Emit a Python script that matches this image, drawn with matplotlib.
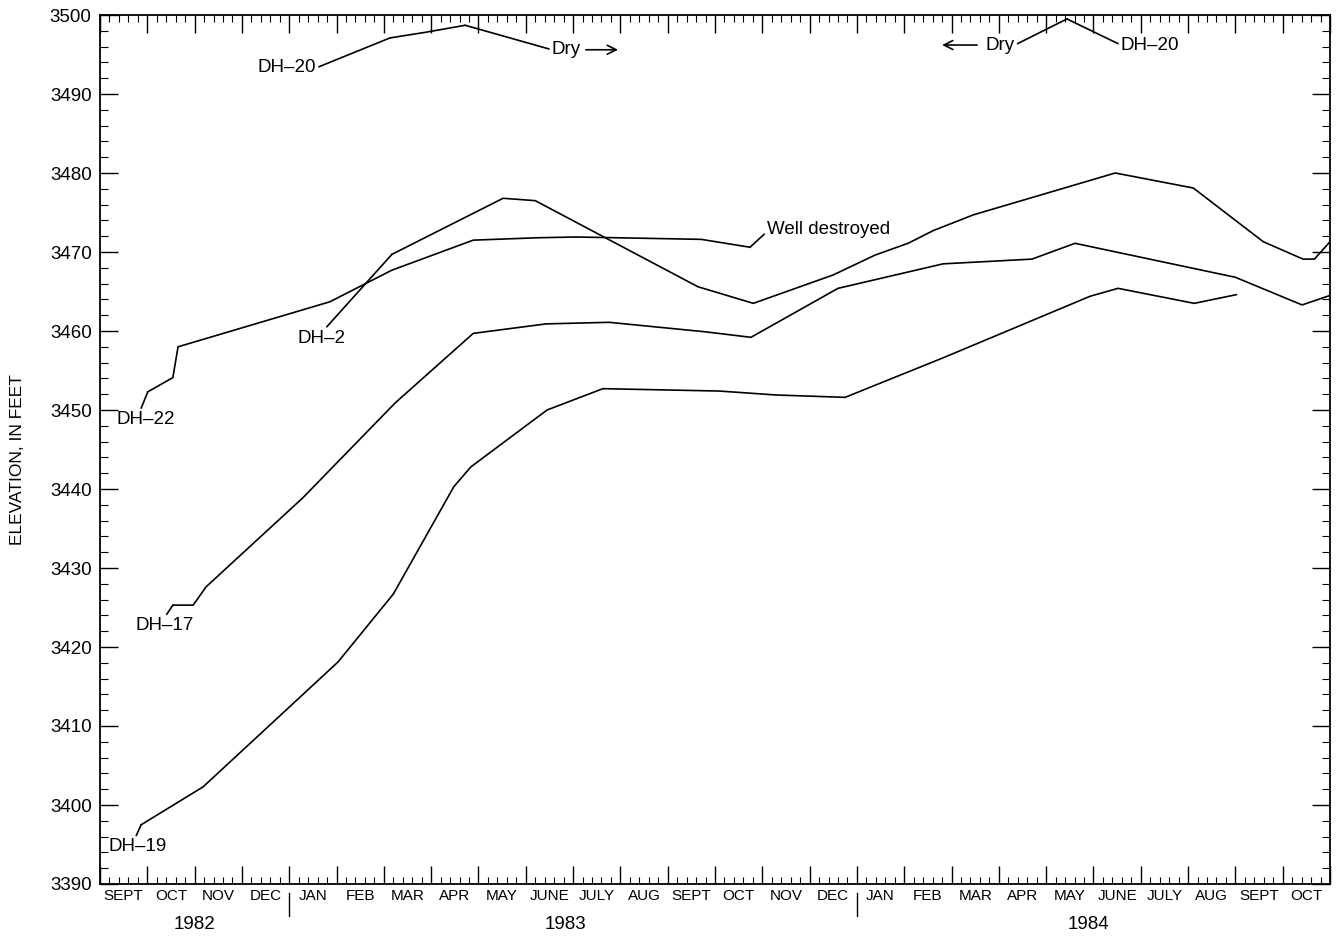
import matplotlib
matplotlib.use('Agg')
import matplotlib.pyplot as plt
import numpy as np

plt.rcParams['font.family'] = ['Liberation Sans', 'DejaVu Sans']

# time axis: months since 1 Sept 1982
months = ['SEPT', 'OCT', 'NOV', 'DEC', 'JAN', 'FEB', 'MAR', 'APR', 'MAY', 'JUNE', 'JULY', 'AUG',
          'SEPT', 'OCT', 'NOV', 'DEC', 'JAN', 'FEB', 'MAR', 'APR', 'MAY', 'JUNE', 'JULY', 'AUG',
          'SEPT', 'OCT']
years = ['1982', '1983', '1984']
year_pos = [2.0, 9.83, 20.9]
year_breaks = [4, 16]

# water levels, feet above sea level
dh20a_t = [6.13, 6.87, 7.72]
dh20a_v = [3497.1, 3497.8, 3498.7]
dh20b_t = [20.44]
dh20b_v = [3499.5]

dh22_t = [1.01, 1.54, 1.65, 4.86, 6.17, 7.89, 9.24, 10.06, 12.71, 13.74]
dh22_v = [3452.3, 3454.1, 3458.0, 3463.7, 3467.7, 3471.5, 3471.8, 3471.9, 3471.6, 3470.6]

dh2_t = [6.17, 8.52, 9.20, 12.64, 13.81, 15.50, 16.38, 17.08, 17.61, 18.46, 21.46, 23.11,
         24.59, 25.43, 25.67, 26.0]
dh2_v = [3469.7, 3476.8, 3476.5, 3465.6, 3463.5, 3467.1, 3469.6, 3471.1, 3472.7, 3474.7,
         3480.0, 3478.1, 3471.3, 3469.1, 3469.1, 3471.3]

dh17_t = [1.54, 1.97, 2.24, 4.29, 6.24, 7.89, 9.43, 10.76, 12.79, 13.76, 15.60, 17.82,
          19.70, 20.61, 24.0, 25.41, 26.0]
dh17_v = [3425.3, 3425.3, 3427.6, 3438.9, 3450.9, 3459.7, 3460.9, 3461.1, 3459.9, 3459.2,
          3465.4, 3468.5, 3469.1, 3471.1, 3466.8, 3463.3, 3464.5]

dh19_t = [0.87, 2.18, 5.03, 6.20, 7.48, 7.84, 9.45, 10.63, 13.09, 14.29, 15.75, 17.82,
          20.93, 21.52, 23.13, 24.02]
dh19_v = [3397.5, 3402.3, 3418.1, 3426.7, 3440.3, 3442.8, 3450.0, 3452.7, 3452.4, 3451.9,
          3451.6, 3456.6, 3464.4, 3465.4, 3463.5, 3464.6]

fig = plt.figure(figsize=(13.39, 9.39), dpi=100)
ax = fig.add_axes([100 / 1339, 1 - 884 / 939, 1230 / 1339, 869 / 939])

lw = 1.2
for t, v in [(dh20a_t, dh20a_v), (dh22_t, dh22_v), (dh2_t, dh2_v),
             (dh17_t, dh17_v), (dh19_t, dh19_v)]:
    ax.plot(t, v, color='black', lw=lw)

ax.set_xlim(0, 26)
ax.set_ylim(3390, 3500)

# labels with leader lines
fs = 13.5
lead = dict(arrowstyle='-', lw=lw, color='black', shrinkA=0, shrinkB=0)


def label(txt, xy, xytext, ha='center', relpos=(0.5, 0.5)):
    ax.annotate(txt, xy=xy, xytext=xytext, ha=ha, va='center', fontsize=fs,
                arrowprops=dict(lead, relpos=relpos))


label('DH–20', (dh20a_t[0], dh20a_v[0]), (3.95, 3493.3), relpos=(1, 0.5))
label('Dry', (dh20a_t[-1], dh20a_v[-1]), (9.55, 3495.6), ha='left', relpos=(0, 0.5))
label('Dry', (dh20b_t[0], dh20b_v[0]), (19.03, 3496.2), relpos=(1, 0.5))
label('DH–20', (dh20b_t[0], dh20b_v[0]), (21.58, 3496.2), ha='left', relpos=(0, 0.5))
label('Well destroyed', (dh22_t[-1], dh22_v[-1]), (14.1, 3472.8), ha='left', relpos=(0, 0.4))
label('DH–2', (dh2_t[0], dh2_v[0]), (4.69, 3459.1), relpos=(0.55, 1))
label('DH–22', (dh22_t[0], dh22_v[0]), (0.97, 3448.8), relpos=(0.4, 1))
label('DH–17', (dh17_t[0], dh17_v[0]), (1.37, 3422.7), relpos=(0.5, 1))
label('DH–19', (dh19_t[0], dh19_v[0]), (0.80, 3394.7), relpos=(0.45, 1))

arrow = dict(arrowstyle='->', lw=lw, color='black', shrinkA=0, shrinkB=0, mutation_scale=16)
ax.annotate('', xy=(10.95, 3495.6), xytext=(10.27, 3495.6), arrowprops=arrow)
ax.annotate('', xy=(17.80, 3496.2), xytext=(18.54, 3496.2), arrowprops=arrow)

# ticks
ax.set_yticks(np.arange(3390, 3501, 10))
ax.set_yticks(np.arange(3390, 3501, 2), minor=True)
ax.set_xticks(np.arange(0, 27, 1))
ax.set_xticks(np.arange(0, 26.01, 0.2), minor=True)
ax.tick_params(which='major', direction='in', length=13, width=1, top=True, right=True,
               labelsize=13.5, pad=6)
ax.tick_params(which='minor', direction='in', length=6, width=0.8, top=True, right=True)
ax.tick_params(axis='x', which='minor', length=5)
ax.tick_params(axis='x', which='both', labelbottom=False)
for s in ax.spines.values():
    s.set_linewidth(1.3)

xt = ax.get_xaxis_transform()
for i, m in enumerate(months):
    ax.text(i + 0.5, -0.014, m, transform=xt, ha='center', va='center', fontsize=11)
for yr, p in zip(years, year_pos):
    ax.text(p, -0.047, yr, transform=xt, ha='center', va='center', fontsize=13.5)
for b in year_breaks:
    ax.plot([b, b], [-0.010, -0.037], transform=xt, clip_on=False, color='black', lw=1)

fig.text(18 / 1339, 1 - 460 / 939, 'ELEVATION, IN FEET', rotation=90,
         ha='center', va='center', fontsize=12.5)

fig.savefig('out.png', dpi=100)
